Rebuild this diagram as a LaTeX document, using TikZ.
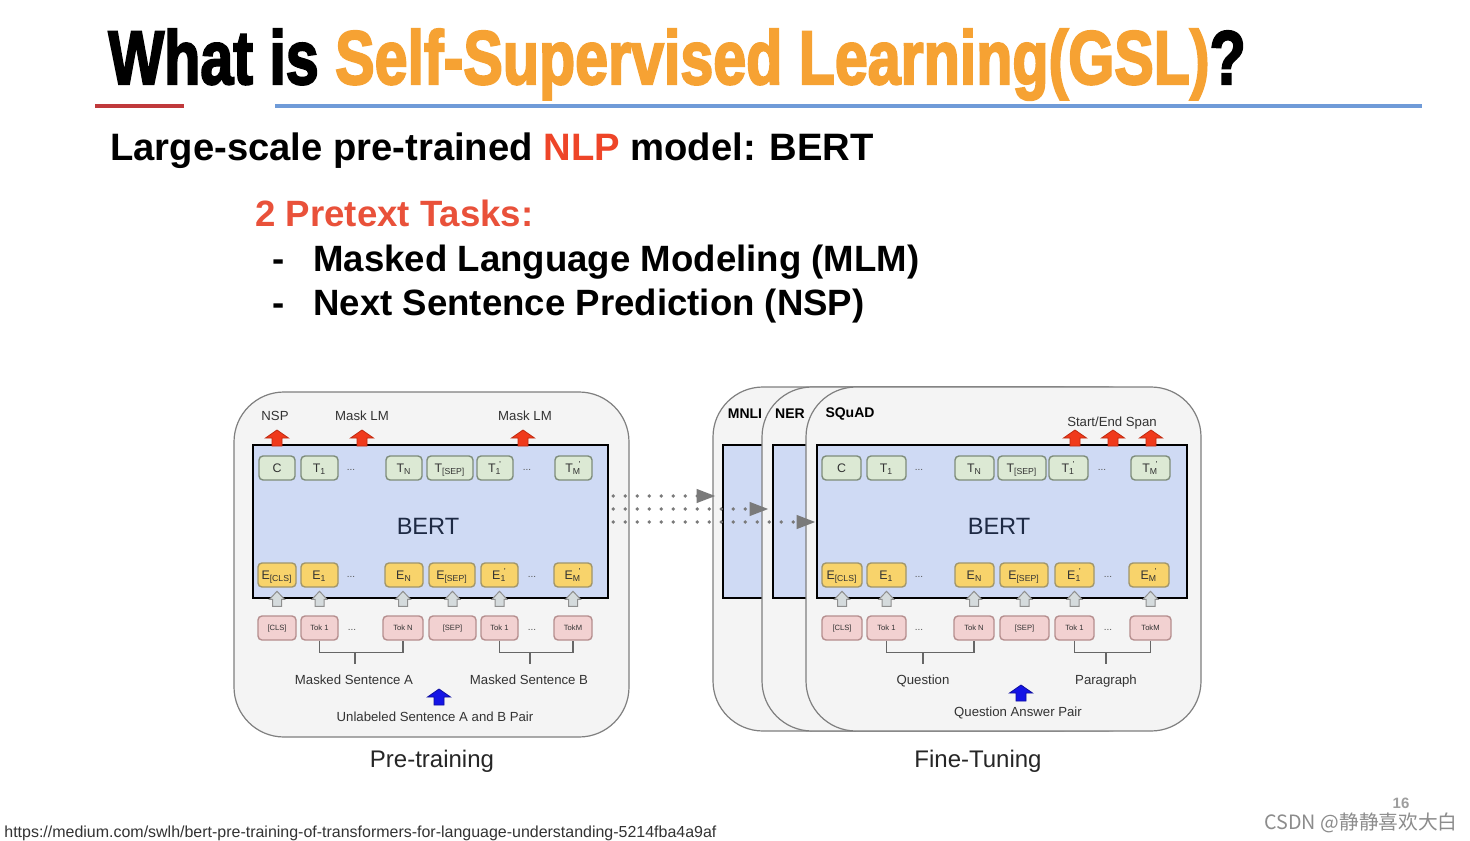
\documentclass[tikz,border=0pt]{standalone}
\usepackage{fontspec}
\usepackage{graphicx}
\setmainfont{Liberation Sans}
\newfontfamily\titlefont[BoldFeatures={FakeBold=3}]{Liberation Sans}
\newfontfamily\cjk{Noto Sans CJK SC}
\usetikzlibrary{arrows.meta,calc}
\definecolor{titleorange}{HTML}{F6A233}
\definecolor{redline}{HTML}{C0393B}
\definecolor{blueline}{HTML}{6F9BD8}
\definecolor{nlpred}{HTML}{EE4528}
\definecolor{taskred}{HTML}{E9513A}
\definecolor{panelf}{HTML}{F4F4F4}
\definecolor{panelb}{HTML}{7F7F7F}
\definecolor{bertf}{HTML}{CFDAF4}
\definecolor{bertt}{HTML}{1E2A44}
\definecolor{tf}{HTML}{DCE9D4}
\definecolor{tb}{HTML}{7E8C7A}
\definecolor{ef}{HTML}{F8D36B}
\definecolor{eb}{HTML}{A0956A}
\definecolor{kf}{HTML}{F2D1D1}
\definecolor{kb}{HTML}{B58E8E}
\definecolor{boxtxt}{HTML}{333333}
\definecolor{dotsc}{HTML}{555555}
\definecolor{labc}{HTML}{333333}
\definecolor{housef}{HTML}{D5DBDD}
\definecolor{houseb}{HTML}{8F8F8F}
\definecolor{redarrf}{HTML}{F03A1C}
\definecolor{redarrb}{HTML}{C02A10}
\definecolor{bluearrf}{HTML}{1414E6}
\definecolor{dotc}{HTML}{7A7A7A}
\definecolor{brc}{HTML}{666666}
\definecolor{urlc}{HTML}{333333}
\definecolor{csdnc}{HTML}{8C8C8C}
\newcommand\bx[6]{\node[#1, minimum width={(#4-#3)*0.5pt}] (#2) at ({(#3+#4)/2},#5) {#6};}
\newcommand\tpr[2]{#1\textsubscript{#2}\kern-0.2em\textsuperscript{'}}
\begin{document}
\begin{tikzpicture}[x=0.5pt,y=-0.5pt,
  panel/.style={draw=panelb, fill=panelf, line width=0.6pt, rounded corners=25pt, inner sep=0},
  bertbox/.style={draw=black, fill=bertf, line width=1.3pt, inner sep=0},
  tbox/.style={draw=tb, fill=tf, line width=0.7pt, rounded corners=2pt, minimum height=12pt, inner sep=0, font=\fontsize{6.2}{7}\selectfont, text=boxtxt, text height=4.44pt, text depth=0pt},
  ebox/.style={tbox, draw=eb, fill=ef},
  kbox/.style={tbox, draw=kb, fill=kf, font=\fontsize{3.8}{4}\selectfont, text height=2.72pt},
  ell/.style={font=\fontsize{5}{6}\selectfont, text=dotsc, inner sep=0},
  lab/.style={font=\fontsize{6.6}{8}\selectfont, text=labc, inner sep=0, text height=4.73pt, text depth=0pt},
  tasklab/.style={font=\bfseries\fontsize{7}{8}\selectfont, text=black, inner sep=0, text height=5.01pt, text depth=0pt},
  bigtxt/.style={inner sep=0, text height=13.1pt, text depth=0pt, anchor=west, font=\bfseries\fontsize{18.3}{22}\selectfont},
  captxt/.style={font=\fontsize{12}{14}\selectfont, text=black!85, inner sep=0, text height=8.59pt, text depth=0pt},
  berttxt/.style={font=\fontsize{11.8}{14}\selectfont, text=bertt, inner sep=0, text height=8.45pt, text depth=0pt},
  redarr/.pic={\draw[draw=redarrb, fill=redarrf, line width=0.4pt] (-5,0)--(-5,-8)--(-11.5,-8)--(0,-16)--(11.5,-8)--(5,-8)--(5,0)--cycle;},
  bluearr/.pic={\draw[draw=bluearrf!70!black, fill=bluearrf, line width=0.4pt] (-5,0)--(-5,-8)--(-11.5,-8)--(0,-16)--(11.5,-8)--(5,-8)--(5,0)--cycle;},
  house/.pic={\draw[draw=houseb, fill=housef, line width=0.5pt] (-4.5,0)--(-4.5,-7)--(-7.5,-7)--(0,-15)--(7.5,-7)--(4.5,-7)--(4.5,0)--cycle;},
  dotarrow/.style={draw=dotc, line width=1.9pt, line cap=round, dash pattern=on 0pt off 6pt, -{Triangle[length=9.5pt,width=6.5pt]}},
  bracket/.style={draw=brc, line width=0.7pt}
]
\useasboundingbox (0,0) rectangle (1470,840);
\fill[white] (0,0) rectangle (1470,840);

% ---------- title ----------
\node[anchor=base west, inner sep=0] (title) at (108,84) {\resizebox{568.5pt}{27.5pt}{\titlefont\bfseries What is \textcolor{titleorange}{Self-Supervised Learning(GSL)}?}};
\draw[redline, line width=2pt] (95,106) -- (184,106);
\draw[blueline, line width=2pt] (275,106) -- (1422,106);

\node[bigtxt, font=\bfseries\fontsize{19.1}{22}\selectfont, text height=13.68pt] (sub) at (110,147) {Large-scale pre-trained \textcolor{nlpred}{NLP} model: BERT};
\node[bigtxt, text=taskred] (tasks) at (255,213) {2 Pretext Tasks:};
\node[bigtxt] (d1) at (272,258) {-};
\node[bigtxt] (mlm) at (313,258) {Masked Language Modeling (MLM)};
\node[bigtxt] (d2) at (272,302) {-};
\node[bigtxt] (nsp) at (313,302) {Next Sentence Prediction (NSP)};

% ---------- left panel: pre-training ----------
\node[panel, minimum width=197.5pt, minimum height=172.5pt] (lpanel) at (431.5,564.5) {};
\node[bertbox, minimum width=177.5pt, minimum height=76.5pt] (lbert) at (430.5,521.5) {};
\node[berttxt] (lbertt) at (428,526) {BERT};

\node[lab] (lnsp) at (275,416) {NSP};
\node[lab] (lmlm1) at (362,416) {Mask LM};
\node[lab] (lmlm2) at (525,416) {Mask LM};
\pic at (277,446) {redarr};
\pic at (362,446) {redarr};
\pic at (523,446) {redarr};

\bx{tbox}{lt1}{259}{295}{468}{C}
\bx{tbox}{lt2}{301}{338}{468}{T\textsubscript{1}}
\node[ell] (ltd1) at (351,470) {...};
\bx{tbox}{lt3}{386}{422}{468}{T\textsubscript{N}}
\bx{tbox}{lt4}{427}{473}{468}{T\textsubscript{[SEP]}}
\bx{tbox}{lt5}{477}{513}{468}{\tpr{T}{1}}
\node[ell] (ltd2) at (527,470) {...};
\bx{tbox}{lt6}{555}{592}{468}{\tpr{T}{M}}

\bx{ebox}{le1}{258}{296}{575}{E\textsubscript{[CLS]}}
\bx{ebox}{le2}{301}{338}{575}{E\textsubscript{1}}
\node[ell] (led1) at (351,577) {...};
\bx{ebox}{le3}{385}{423}{575}{E\textsubscript{N}}
\bx{ebox}{le4}{429}{475}{575}{E\textsubscript{[SEP]}}
\bx{ebox}{le5}{481}{518}{575}{\tpr{E}{1}}
\node[ell] (led2) at (532,577) {...};
\bx{ebox}{le6}{554}{592}{575}{\tpr{E}{M}}

\bx{kbox}{lk1}{258}{296}{628}{[CLS]}
\bx{kbox}{lk2}{301}{338}{628}{Tok 1}
\node[ell] (lkd1) at (352,630) {...};
\bx{kbox}{lk3}{383}{423}{628}{Tok N}
\bx{kbox}{lk4}{429}{476}{628}{[SEP]}
\bx{kbox}{lk5}{481}{518}{628}{Tok 1}
\node[ell] (lkd2) at (532,630) {...};
\bx{kbox}{lk6}{554}{592}{628}{TokM}

\foreach \n in {lk1,lk2,lk3,lk4,lk5,lk6} \pic at ([yshift=4.5pt]\n.north) {house};

\draw[bracket] (lk2.south) -- ++(0,12) -| (lk3.south);
\draw[bracket] ($(lk2.south)+(35.5,12)$) -- ++(0,11);
\draw[bracket] (lk5.south) -- ++(0,12) -| (lk6.south);
\draw[bracket] ($(lk5.south)+(30.5,12)$) -- ++(0,11);

\node[lab] (lsa) at (354,680) {Masked Sentence A};
\node[lab] (lsb) at (529,680) {Masked Sentence B};
\pic at (439,705) {bluearr};
\node[lab] (lpair) at (435,717) {Unlabeled Sentence A and B Pair};

\node[captxt] (pre) at (432,759) {Pre-training};

% ---------- right panels: fine-tuning ----------
\node[panel, minimum width=197.5pt, minimum height=172pt] (mpanel) at (910.5,559) {};
\node[bertbox, minimum width=187.5pt, minimum height=76.5pt] (mbert) at (910.5,521.5) {};
\node[tasklab] (mnli) at (745,413) {MNLI};
\node[panel, minimum width=197.5pt, minimum height=172pt] (npanel) at (959.5,559) {};
\node[bertbox, minimum width=187.5pt, minimum height=76.5pt] (nbert) at (960.5,521.5) {};
\node[tasklab] (ner) at (790,413) {NER};
\node[panel, minimum width=197.5pt, minimum height=172pt] (fpanel) at (1003.5,559) {};
\node[bertbox, minimum width=185pt, minimum height=76.5pt] (fbert) at (1002,521.5) {};
\node[tasklab] (squad) at (850,412) {SQuAD};
\node[berttxt] (fbertt) at (999,526) {BERT};

\node[lab] (span) at (1112,422) {Start/End Span};
\pic at (1075,446) {redarr};
\pic at (1113,446) {redarr};
\pic at (1151,446) {redarr};

\bx{tbox}{ft1}{822}{861}{468}{C}
\bx{tbox}{ft2}{867}{906}{468}{T\textsubscript{1}}
\node[ell] (ftd1) at (919,470) {...};
\bx{tbox}{ft3}{955}{994}{468}{T\textsubscript{N}}
\bx{tbox}{ft4}{998}{1046}{468}{T\textsubscript{[SEP]}}
\bx{tbox}{ft5}{1049}{1088}{468}{\tpr{T}{1}}
\node[ell] (ftd2) at (1102,470) {...};
\bx{tbox}{ft6}{1131}{1170}{468}{\tpr{T}{M}}

\bx{ebox}{fe1}{822}{862}{575}{E\textsubscript{[CLS]}}
\bx{ebox}{fe2}{867}{906}{575}{E\textsubscript{1}}
\node[ell] (fed1) at (919,577) {...};
\bx{ebox}{fe3}{955}{994}{575}{E\textsubscript{N}}
\bx{ebox}{fe4}{1000}{1048}{575}{E\textsubscript{[SEP]}}
\bx{ebox}{fe5}{1055}{1094}{575}{\tpr{E}{1}}
\node[ell] (fed2) at (1108,577) {...};
\bx{ebox}{fe6}{1129}{1169}{575}{\tpr{E}{M}}

\bx{kbox}{fk1}{822}{862}{628}{[CLS]}
\bx{kbox}{fk2}{867}{906}{628}{Tok 1}
\node[ell] (fkd1) at (919,630) {...};
\bx{kbox}{fk3}{954}{994}{628}{Tok N}
\bx{kbox}{fk4}{1000}{1049}{628}{[SEP]}
\bx{kbox}{fk5}{1055}{1094}{628}{Tok 1}
\node[ell] (fkd2) at (1108,630) {...};
\bx{kbox}{fk6}{1130}{1171}{628}{TokM}

\foreach \n in {fk1,fk2,fk3,fk4,fk5,fk6} \pic at ([yshift=4.5pt]\n.north) {house};

\draw[bracket] (fk2.south) -- ++(0,12) -| (fk3.south);
\draw[bracket] ($(fk2.south)+(36.5,12)$) -- ++(0,11);
\draw[bracket] (fk5.south) -- ++(0,12) -| (fk6.south);
\draw[bracket] ($(fk5.south)+(31.5,12)$) -- ++(0,11);

\node[lab] (fq) at (923,680) {Question};
\node[lab] (fp) at (1106,680) {Paragraph};
\pic at (1021,701) {bluearr};
\node[lab] (fqa) at (1018,712) {Question Answer Pair};

\node[captxt] (fine) at (978,759) {Fine-Tuning};

% ---------- dotted connectors ----------
\draw[dotarrow, shorten <=2pt, shorten >=3pt] ([yshift=12.75pt]lbert.east) -- ([yshift=12.75pt]mbert.west);
\draw[dotarrow, shorten <=2pt, shorten >=1.5pt] ([yshift=6.25pt]lbert.east) -- ([yshift=6.25pt]nbert.west);
\draw[dotarrow, shorten <=2pt] ([yshift=-0.25pt]lbert.east) -- ([yshift=-0.25pt]fbert.west);

% ---------- footer ----------
\node[anchor=base west, inner sep=0, text=urlc] (url) at (4,837) {\resizebox{356pt}{!}{\fontsize{8}{9}\selectfont https://medium.com/swlh/bert-pre-training-of-transformers-for-language-understanding-5214fba4a9af}};
\node[font=\bfseries\fontsize{7.5}{9}\selectfont, text=black!38, inner sep=0, text height=5.37pt, text depth=0pt] (pnum) at (1401,803) {16};
\node[anchor=base east, inner sep=0, text=csdnc] (csdn) at (1458,829) {\resizebox{96.5pt}{!}{\cjk\fontsize{9}{10}\selectfont CSDN @静静喜欢大白}};
\end{tikzpicture}
\end{document}
